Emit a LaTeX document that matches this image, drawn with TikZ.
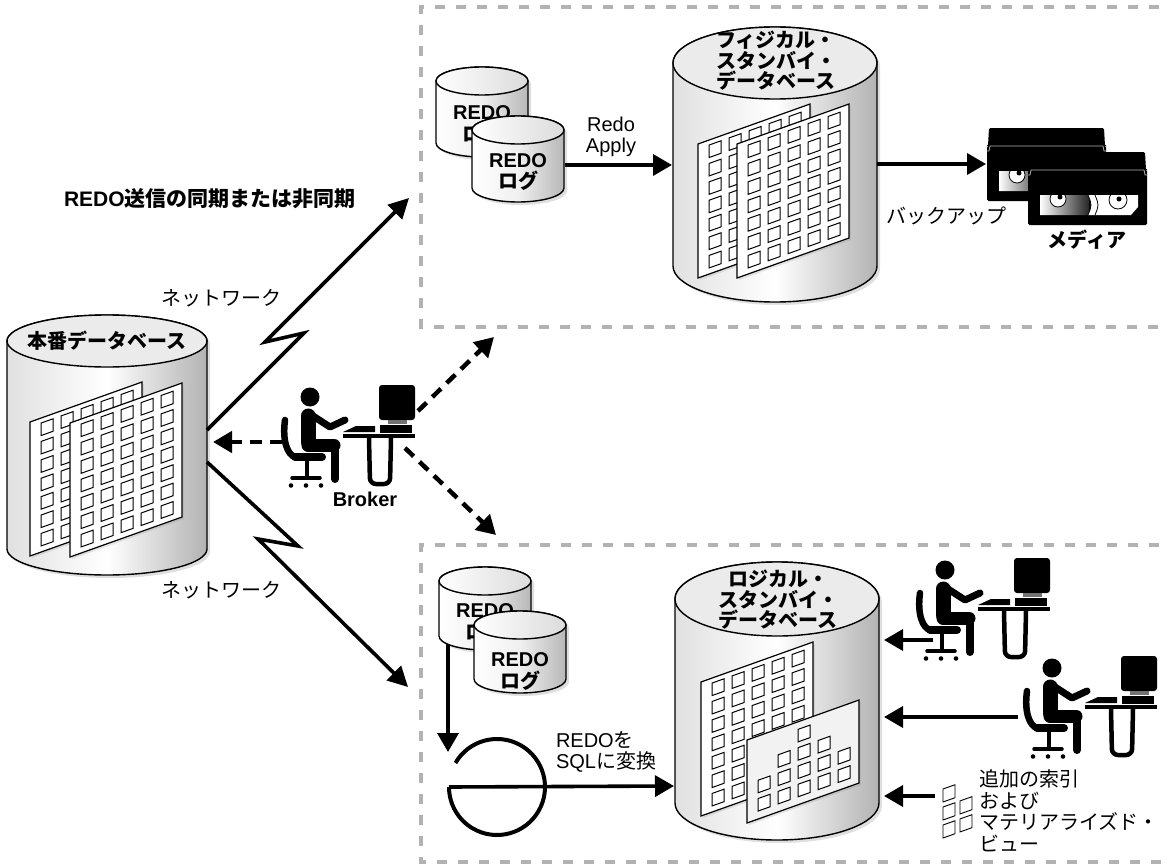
\documentclass[tikz,border=0pt]{standalone}
\usepackage{fontspec}
\setmainfont{Liberation Sans}
\newfontfamily\jp{Noto Sans CJK JP}
\usetikzlibrary{arrows.meta,shadows}

% cylinder: #1 body style, #2 cx, #3 top-ellipse cy, #4 rx, #5 ry, #6 bottom-ellipse cy
\newcommand\drum[6]{%
  \path[#1] ({#2-#4},#3) -- ({#2-#4},#6)
    arc[start angle=180,end angle=360,x radius=#4pt,y radius=#5pt]
    -- ({#2+#4},#3)
    arc[start angle=0,end angle=180,x radius=#4pt,y radius=#5pt] -- cycle;
  \path[#1 top] (#2,#3) ellipse[x radius=#4pt,y radius=#5pt];
}

\tikzset{
  stbox/.style={draw=black!30, line width=3.6pt, dash pattern=on 10pt off 11pt},
  net/.style={line width=3.6pt, miter limit=6, -{Triangle[length=20pt,width=20pt]}},
  flow/.style={line width=3.6pt, -{Triangle[length=19pt,width=21pt]}},
  brk/.style={line width=4.5pt, dash pattern=on 12pt off 8pt, -{Triangle[length=19pt,width=21pt]}},
  bigdb/.style={draw, line width=1.4pt, left color=black!12, right color=black!30, middle color=white,
    drop shadow={opacity=0.25, shadow xshift=3pt, shadow yshift=-3pt}},
  bigdb top/.style={draw, line width=1.4pt, fill=black!8},
  logdb/.style={draw, line width=1.4pt, left color=white, right color=black!28, middle color=black!6,
    drop shadow={opacity=0.25, shadow xshift=3pt, shadow yshift=-3pt}},
  logdb top/.style={draw, line width=1.4pt, left color=white, right color=black!14},
  sheetbox/.style={draw, line width=1.2pt, fill=white,
    drop shadow={opacity=0.2, shadow xshift=2pt, shadow yshift=-2pt}},
  cell/.style={draw, line width=1pt, fill=white},
  slanted/.style={yslant=0.357},
  txt/.style={font=\fontsize{20}{21}\selectfont},
  jtxt/.style={font=\jp\fontsize{20}{21.5}\selectfont},
  jbold/.style={font=\jp\bfseries\fontsize{20}{20.5}\selectfont},
  bold/.style={font=\bfseries\fontsize{20}{21}\selectfont},
  % data sheet with a 5 x 7 grid of cells
  sheet/.pic={
    \path[sheetbox] (0,0) rectangle (112,134);
    \foreach \i in {0,...,4} \foreach \j in {0,...,6}
      \draw[cell] ({11+20*\i},{5+18.4*\j}) rectangle +(12,12.5);
  },
  % materialized view sheet: bar-chart arrangement of cells
  chart/.pic={
    \path[sheetbox, fill=black!5] (0,0) rectangle (112,83);
    \foreach \i/\n in {0/2,1/3,2/4,3/3,4/2} \foreach \j in {1,...,\n}
      \draw[cell] ({11+20*\i},{62.5-18.3*(\j-1)}) rectangle +(12,12.5);
  },
  % operator at a workstation, origin at the head centre
  worker/.pic={
    \fill (0,0) circle[radius=9.5pt];
    \draw[line width=15pt, line cap=round] (-2,19) -- (-2,45);
    \draw[line width=13pt, line cap=round] (-2,48) -- (24,48);
    \draw[line width=8pt, line cap=round] (25,49) -- (25,82);
    \draw[line width=7pt, line cap=round, line join=round] (3,19) -- (20,30) -- (35,23);
    \draw[line width=6.5pt, line cap=round] (-25,23) .. controls (-28,45) and (-22,58) .. (-15,60);
    \draw[line width=8pt, line cap=round] (-15,60) -- (12,60);
    \draw[line width=4.5pt] (-3,63) -- (-3,80);
    \draw[line width=3.5pt, line cap=round] (-18,81) -- (10,81);
    \foreach \wx in {-19,-4,11} \fill (\wx,88.5) circle[radius=2.3pt];
    \fill (33,37) rectangle (105,41);
    \fill (33,35) -- (46,29) -- (65,29) -- (65,35) -- cycle;
    \fill (70,28) rectangle (102,36);
    \fill[rounded corners=3pt] (69,-12) rectangle (105,23);
    \fill[black!55] (78,23) rectangle (97,27);
    \draw[line width=4.5pt, rounded corners=6pt] (59,41) -- (60,87) -- (80,87) -- (81,41);
  },
  % backup tape cartridge, origin at the top-left corner
  tape/.pic={
    \fill[rounded corners=1.5pt] (2,0) -- (117,0) -- (118,18) -- (119,18) -- (119,73)
      -- (0,73) -- (0,18) -- (1,18) -- cycle;
    \draw[black!30, line width=0.8pt] (0,23) -- (2,23) -- (3,18) -- (116,18) -- (117,23) -- (119,23);
    \begin{scope}
      \clip (12,43) -- (110,43) -- (110,55) -- (103,63) -- (12,63) -- cycle;
      \shade[left color=white, right color=black!85] (12,43) rectangle (61,63);
      \fill[white] (60,43) .. controls (64,53) .. (60,63) -- (111,63) -- (111,43) -- cycle;
      \draw[line width=0.8pt] (60,43) .. controls (64,53) .. (60,63);
      \draw[line width=0.8pt] (67,43) .. controls (71,53) .. (67,63);
      \draw[fill=white, line width=0.8pt] (30,47) circle[radius=8pt];
      \fill (32,45) circle[radius=2.5pt];
      \draw[fill=white, line width=0.8pt] (90,48) circle[radius=9pt];
      \fill (91,47) circle[radius=2.5pt];
    \end{scope}
  },
}

\begin{document}
\begin{tikzpicture}[x=1pt,y=-1pt, every node/.style={inner sep=0pt, outer sep=0pt, align=center}]
\useasboundingbox (0,0) rectangle (1168,867);

% standby site frames
\draw[stbox] (1180,7) -- (421,7) -- (421,327) -- (1180,327);
\draw[stbox] (1180,545) -- (421,545) -- (421,862) -- (1180,862);

% ---------- primary database ----------
\drum{bigdb}{107}{341}{100}{26}{549}
\begin{scope}[shift={(30,422)}, slanted] \pic[transform shape] {sheet}; \end{scope}
\begin{scope}[shift={(70,423)}, slanted] \pic[transform shape] {sheet}; \end{scope}
\node[jbold] (primLbl) at (107,341) {本番データベース};

% ---------- physical standby ----------
\drum{logdb}{482}{81}{46}{14}{143}
\node[bold] (rlogBackA) at (482,113) {REDO};
\node[jbold] (rlogBackB) at (482,134) {ログ};
\drum{logdb}{518}{130}{46}{14}{188}
\node[bold] (rlogA) at (518,161) {REDO};
\node[jbold] (rlogB) at (518,181) {ログ};

\drum{bigdb}{775}{63}{102}{36}{266}
\begin{scope}[shift={(698,144)}, slanted] \pic[transform shape] {sheet}; \end{scope}
\begin{scope}[shift={(737,144)}, slanted] \pic[transform shape] {sheet}; \end{scope}
\node[jbold] (phyLbl) at (776,61) {フィジカル・\\スタンバイ・\\データベース};

\node[txt] (applyLbl) at (611,137) {Redo\\Apply};
\coordinate (rlogE) at (565,165);
\coordinate (phyW) at (672,165);
\draw[flow] (rlogE) -- (phyW);

\pic at (987,128) {tape};
\pic at (1028,152) {tape};
\node[jbold] (mediaLbl) at (1087,240) {メディア};
\node[jtxt] (backupLbl) at (946,216) {バックアップ};
\coordinate (phyE) at (877,164);
\coordinate (tapeW) at (986,164);
\draw[flow] (phyE) -- (tapeW);

% ---------- logical standby ----------
\drum{logdb}{485}{581}{46}{14}{636}
\node[bold] (llogBackA) at (485,611) {REDO};
\node[jbold] (llogBackB) at (485,632) {ログ};
\drum{logdb}{520}{625}{46}{14}{679}
\node[bold] (llogA) at (520,660) {REDO};
\node[jbold] (llogB) at (520,681) {ログ};

\node[circle, minimum size=96pt] (eng) at (497,787) {};
\draw[line width=4pt] (eng.150) arc[start angle=150, end angle=-180, radius=48pt];
\coordinate (llogS) at (448,644);
\coordinate (engN) at (448,752);
\draw[flow] (llogS) -- (engN);

\drum{bigdb}{777}{599}{102}{37}{803}
\begin{scope}[shift={(701,682)}, slanted] \pic[transform shape] {sheet}; \end{scope}
\begin{scope}[shift={(747,740)}, slanted] \pic[transform shape] {chart}; \end{scope}
\node[jbold] (logLbl) at (778,600) {ロジカル・\\スタンバイ・\\データベース};

\node[txt, anchor=west, align=left] (cvtLbl) at (556,752) {REDO{\jp を}\\SQL{\jp に変換}};
\coordinate (logW) at (674,786);
\draw[flow] (eng.west) -- (logW);

% users and added structures on the logical standby
\pic at (945,570) {worker};
\pic at (1052,668) {worker};
\coordinate (u1) at (933,640); \coordinate (l1) at (884,640);
\coordinate (u2) at (1018,717); \coordinate (l2) at (884,717);
\coordinate (u3) at (935,796); \coordinate (l3) at (884,796);
\draw[flow] (u1) -- (l1);
\draw[flow] (u2) -- (l2);
\draw[flow] (u3) -- (l3);
\begin{scope}[shift={(943,789)}, slanted]
  \foreach \cx/\cy in {0/0,0/18,0/36,17/18,17/36}
    \draw[line width=0.9pt, fill=white] (\cx,\cy) rectangle +(12,13);
\end{scope}
\node[jtxt, anchor=west, align=left] (mvLbl) at (979,811) {追加の索引\\および\\マテリアライズド・\\ビュー};

% ---------- redo transport over the network ----------
\node[bold, anchor=west, font=\bfseries\fontsize{21}{21}\selectfont] (syncLbl) at (64,199) {REDO{\jp 送信の同期または非同期}};
\node[jtxt] (net1) at (221,298) {ネットワーク};
\node[jtxt] (net2) at (221,590) {ネットワーク};
\coordinate (primE1) at (207,430);
\coordinate (k1a) at (304,333);
\coordinate (k1b) at (265,342);
\coordinate (phyIn) at (409,198);
\coordinate (primE2) at (207,462);
\coordinate (k2a) at (298,546);
\coordinate (k2b) at (258,539);
\coordinate (logIn) at (408,687);
\draw[net] (primE1) -- (k1a) -- (k1b) -- (phyIn);
\draw[net] (primE2) -- (k2a) -- (k2b) -- (logIn);

% ---------- broker ----------
\pic at (310,397) {worker};
\node[bold] (brkLbl) at (365,499) {Broker};
\coordinate (brkL0) at (282,442); \coordinate (brkL1) at (213,442);
\coordinate (brkU0) at (418,411); \coordinate (brkU1) at (494,337);
\coordinate (brkD0) at (405,448); \coordinate (brkD1) at (496,535);
\draw[brk] (brkL0) -- (brkL1);
\draw[brk] (brkU0) -- (brkU1);
\draw[brk] (brkD0) -- (brkD1);
\end{tikzpicture}
\end{document}
